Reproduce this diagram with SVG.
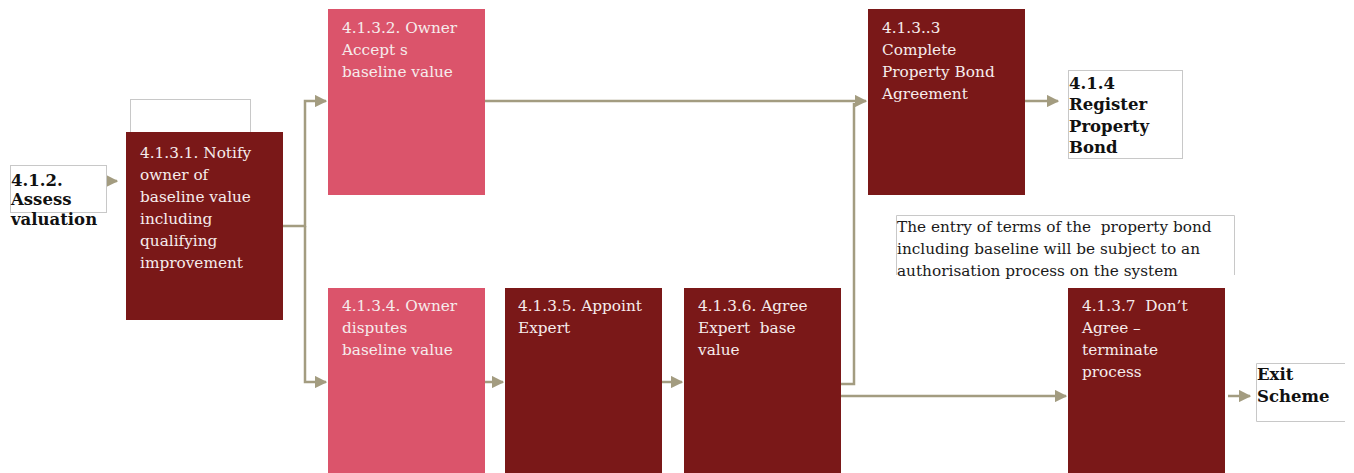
<svg xmlns="http://www.w3.org/2000/svg" width="1354" height="473" viewBox="0 0 1354 473">
  <style>
    .dark { fill: #7A1818; }
    .pink { fill: #DB546B; }
    .frame { fill: #ffffff; stroke: #c8c8c8; stroke-width: 1; }
    .lbl { font-family: "DejaVu Serif", "Liberation Serif", serif; font-size: 15.3px; fill: #f6ecec; }
    .bold { font-family: "DejaVu Serif", "Liberation Serif", serif; font-size: 16.5px; font-weight: bold; fill: #111111; }
    .note { font-family: "DejaVu Serif", "Liberation Serif", serif; font-size: 15.3px; fill: #1a1a1a; }
    .conn { fill: none; stroke: #A39C80; stroke-width: 2.5; }
  </style>
  <defs>
    <marker id="arrow" markerWidth="5" markerHeight="5" refX="4.5" refY="2.5" orient="auto" markerUnits="strokeWidth">
      <path d="M0,0 L5,2.5 L0,5 Z" fill="#A39C80"/>
    </marker>
  </defs>

  <rect width="1354" height="473" fill="#ffffff"/>

  <!-- connectors -->
  <g id="connectors">
    <line class="conn" x1="83" y1="181" x2="117" y2="181" marker-end="url(#arrow)"/>
    <path class="conn" d="M283,226 H305 V101 H326" marker-end="url(#arrow)"/>
    <path class="conn" d="M305,226 V382 H326" marker-end="url(#arrow)"/>
    <line class="conn" x1="485" y1="101" x2="866" y2="101" marker-end="url(#arrow)"/>
    <path class="conn" d="M841,384 H854 V103"/>
    <line class="conn" x1="1025" y1="101" x2="1058" y2="101" marker-end="url(#arrow)"/>
    <line class="conn" x1="485" y1="382" x2="503" y2="382" marker-end="url(#arrow)"/>
    <line class="conn" x1="662" y1="382" x2="682" y2="382" marker-end="url(#arrow)"/>
    <line class="conn" x1="841" y1="396" x2="1066" y2="396" marker-end="url(#arrow)"/>
    <line class="conn" x1="1228" y1="396" x2="1250" y2="396" marker-end="url(#arrow)"/>
  </g>

  <!-- 4.1.2 -->
  <g id="n412">
    <rect class="frame" x="10.5" y="165.5" width="96" height="47"/>
    <text class="bold"><tspan x="11" y="186">4.1.2.</tspan><tspan x="11" y="205">Assess</tspan><tspan x="11" y="225">valuation</tspan></text>
  </g>

  <!-- empty frame above 4.1.3.1 -->
  <g id="blank">
    <rect class="frame" x="130.5" y="99.5" width="120" height="34"/>
  </g>

  <!-- 4.1.3.1 -->
  <g id="n4131">
    <rect class="dark" x="126" y="132" width="157" height="188"/>
    <text class="lbl"><tspan x="140" y="158">4.1.3.1. Notify</tspan><tspan x="140" y="180">owner of</tspan><tspan x="140" y="202">baseline value</tspan><tspan x="140" y="224">including</tspan><tspan x="140" y="246">qualifying</tspan><tspan x="140" y="268">improvement</tspan></text>
  </g>

  <!-- 4.1.3.2 -->
  <g id="n4132">
    <rect class="pink" x="328" y="9" width="157" height="186"/>
    <text class="lbl"><tspan x="342" y="33">4.1.3.2. Owner</tspan><tspan x="342" y="55">Accept s</tspan><tspan x="342" y="77">baseline value</tspan></text>
  </g>

  <!-- 4.1.3..3 -->
  <g id="n4133">
    <rect class="dark" x="868" y="9" width="157" height="186"/>
    <text class="lbl"><tspan x="882" y="33">4.1.3..3</tspan><tspan x="882" y="55">Complete</tspan><tspan x="882" y="77">Property Bond</tspan><tspan x="882" y="99">Agreement</tspan></text>
  </g>

  <!-- 4.1.4 -->
  <g id="n414">
    <rect class="frame" x="1068.5" y="70.5" width="114" height="88"/>
    <text class="bold"><tspan x="1069" y="89">4.1.4</tspan><tspan x="1069" y="110">Register</tspan><tspan x="1069" y="132">Property</tspan><tspan x="1069" y="153">Bond</tspan></text>
  </g>

  <!-- note -->
  <g id="note">
    <path d="M896.5,275 V215.5 H1234.5 V275" fill="#ffffff" stroke="#c8c8c8" stroke-width="1"/>
    <text class="note" xml:space="preserve"><tspan x="897" y="232">The entry of terms of the  property bond</tspan><tspan x="897" y="254">including baseline will be subject to an</tspan><tspan x="897" y="276">authorisation process on the system</tspan></text>
  </g>

  <!-- 4.1.3.4 -->
  <g id="n4134">
    <rect class="pink" x="328" y="288" width="157" height="185"/>
    <text class="lbl"><tspan x="342" y="311">4.1.3.4. Owner</tspan><tspan x="342" y="333">disputes</tspan><tspan x="342" y="355">baseline value</tspan></text>
  </g>

  <!-- 4.1.3.5 -->
  <g id="n4135">
    <rect class="dark" x="505" y="288" width="157" height="185"/>
    <text class="lbl"><tspan x="518" y="311">4.1.3.5. Appoint</tspan><tspan x="518" y="333">Expert</tspan></text>
  </g>

  <!-- 4.1.3.6 -->
  <g id="n4136">
    <rect class="dark" x="684" y="288" width="157" height="185"/>
    <text class="lbl" xml:space="preserve"><tspan x="698" y="311">4.1.3.6. Agree</tspan><tspan x="698" y="333">Expert  base</tspan><tspan x="698" y="355">value</tspan></text>
  </g>

  <!-- 4.1.3.7 -->
  <g id="n4137">
    <rect class="dark" x="1068" y="288" width="157" height="185"/>
    <text class="lbl" xml:space="preserve"><tspan x="1082" y="311">4.1.3.7  Don’t</tspan><tspan x="1082" y="333">Agree –</tspan><tspan x="1082" y="355">terminate</tspan><tspan x="1082" y="377">process</tspan></text>
  </g>

  <!-- Exit Scheme -->
  <g id="exit">
    <path d="M1345,363.5 H1256.5 V421.5 H1345" fill="#ffffff" stroke="#c8c8c8" stroke-width="1"/>
    <text class="bold"><tspan x="1257" y="380">Exit</tspan><tspan x="1257" y="402">Scheme</tspan></text>
  </g>
</svg>
